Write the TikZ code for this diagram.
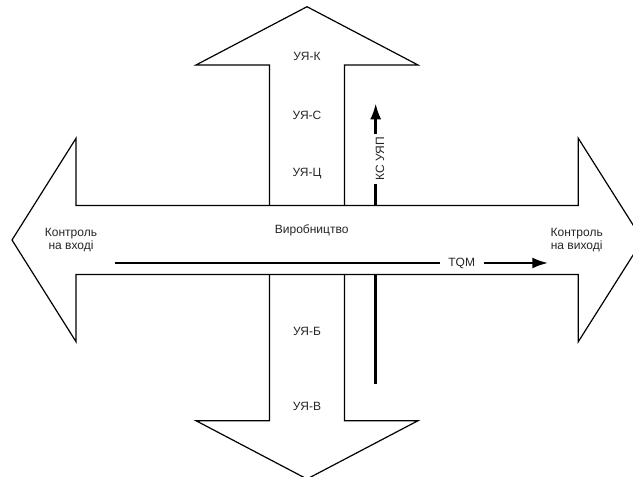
\documentclass[tikz,border=0pt]{standalone}
\usepackage{fontspec}
\setmainfont{Liberation Sans}
\usetikzlibrary{arrows.meta}
\begin{document}
\begin{tikzpicture}[x=1pt,y=-1pt,
  shapebox/.style={draw=black, fill=white, line width=1.2pt, line join=miter},
  lbl/.style={font=\fontsize{12}{13.4}\selectfont, inner sep=0pt, align=center, text=black!85},
  flow/.style={line width=2.6pt},
  flowarrow/.style={line width=2.6pt, -{Latex[length=16pt,width=11pt]}}]
\useasboundingbox (0,0) rectangle (633,477);
\clip (0,0) rectangle (633,477);
% vertical arrows
\draw[shapebox] (269.5,240) -- (269.5,65) -- (196,65) -- (307,6.7) -- (418,65) -- (344.5,65) -- (344.5,240) -- cycle;
\draw[shapebox] (269.5,240) -- (269.5,420.7) -- (196,420.7) -- (307,479) -- (418,420.7) -- (344.5,420.7) -- (344.5,240) -- cycle;
% KS arrow (under the horizontal band)
\coordinate (ksBot) at (375.7,384);
\coordinate (ksTop) at (375.7,103.3);
\node[lbl, rotate=90, fill=white, inner xsep=3pt, inner ysep=2pt] (ks) at (380,159) {КС УЯП};
\draw[flow] (ksBot) -- (ksBot |- ks.west);
\draw[flowarrow] (ksBot |- ks.east) -- (ksTop);
% horizontal arrow
\draw[shapebox] (76,205.5) -- (76,138.3) -- (12,240) -- (76,341.7) -- (76,274.5)
  -- (578.3,274.5) -- (578.3,341.7) -- (642.6,240) -- (578.3,138.3) -- (578.3,205.5) -- cycle;
% labels
\node[lbl] (k) at (307,56.7) {УЯ-К};
\node[lbl] (s) at (307,115) {УЯ-С};
\node[lbl] (c) at (307,173.3) {УЯ-Ц};
\node[lbl] (vyr) at (311.7,230.7) {Виробництво};
\node[lbl] (in) at (71,240) {Контроль\\на вході};
\node[lbl] (out) at (576.7,240) {Контроль\\на виході};
\node[lbl] (b) at (307,331.7) {УЯ-Б};
\node[lbl] (v) at (307,406.7) {УЯ-В};
% TQM arrow
\coordinate (tqmS) at (115,263);
\coordinate (tqmE) at (548.3,263);
\node[lbl, inner xsep=8.5pt] (tqm) at (461.7,263) {TQM};
\draw[flow] (tqmS) -- (tqm.west);
\draw[flowarrow] (tqm.east) -- (tqmE);
\end{tikzpicture}
\end{document}
